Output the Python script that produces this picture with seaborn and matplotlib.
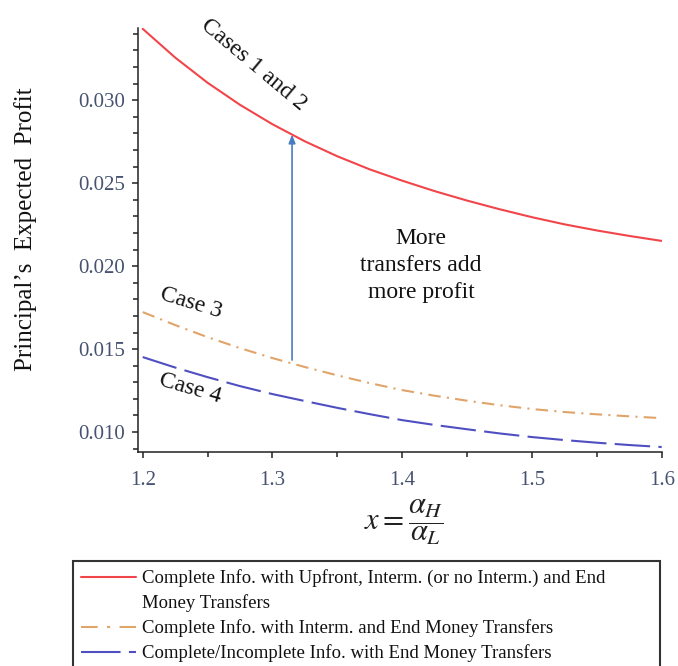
import numpy as np
import pandas as pd
import matplotlib
matplotlib.use("Agg")
import matplotlib.pyplot as plt
from matplotlib.lines import Line2D
from matplotlib.ticker import MultipleLocator, FormatStrFormatter
import seaborn as sns

# Ratio x = alpha_H / alpha_L
x_ratio = [1.2, 1.225, 1.25, 1.275, 1.3, 1.325, 1.35, 1.375, 1.4,
           1.425, 1.45, 1.475, 1.5, 1.525, 1.55, 1.575, 1.6]

# Principal's expected profit for each information / transfer regime
profit_case12 = [0.03430, 0.03257, 0.03105, 0.02972, 0.02855, 0.02752,
                 0.02662, 0.02583, 0.02515, 0.02452, 0.02395, 0.02343,
                 0.02295, 0.02252, 0.02215, 0.02182, 0.02152]
profit_case3 = [0.01723, 0.01645, 0.01572, 0.01506, 0.01446, 0.01392,
                0.01342, 0.01295, 0.01253, 0.01219, 0.01189, 0.01162,
                0.01139, 0.01121, 0.01107, 0.01095, 0.01084]
profit_case4 = [0.01452, 0.01389, 0.01331, 0.01277, 0.01229, 0.01187,
                0.01146, 0.01108, 0.01072, 0.01043, 0.01017, 0.00992,
                0.00970, 0.00952, 0.00936, 0.00922, 0.00910]

series_names = ["Cases 1 and 2", "Case 3", "Case 4"]
legend_labels = [
    "Complete Info. with Upfront, Interm. (or no Interm.) and End",
    "Money Transfers",
    "Complete Info. with Interm. and End Money Transfers",
    "Complete/Incomplete Info. with End Money Transfers",
]
x_ticks = [1.2, 1.3, 1.4, 1.5, 1.6]
y_ticks = [0.010, 0.015, 0.020, 0.025, 0.030]

colors = {"Cases 1 and 2": "#f2454a", "Case 3": "#e0a46a", "Case 4": "#4f4fc2"}
dash_styles = {"Cases 1 and 2": "", "Case 3": (6, 3, 1, 3), "Case 4": (17, 4)}

df = pd.concat([
    pd.DataFrame({"x": x_ratio, "profit": vals, "case": name})
    for name, vals in zip(series_names, [profit_case12, profit_case3, profit_case4])
], ignore_index=True)

sns.set_style("ticks")
plt.rcParams["font.family"] = ["Liberation Serif", "DejaVu Serif"]
plt.rcParams["mathtext.fontset"] = "stix"

W, H = 678, 666
fig = plt.figure(figsize=(W / 100, H / 100), dpi=100)
ax = fig.add_axes([138.3 / W, (H - 452) / H, (661.7 - 138.3) / W, (452 - 28) / H])

sns.lineplot(data=df, x="x", y="profit", hue="case", style="case",
             palette=colors, dashes=dash_styles, linewidth=1.5,
             legend=False, ax=ax)

ax.set_xlim(1.1966, 1.6)
ax.set_ylim(0.0088, 0.03435)
ax.set_xticks(x_ticks)
ax.set_yticks(y_ticks)
ax.xaxis.set_minor_locator(MultipleLocator(0.05))
ax.yaxis.set_minor_locator(MultipleLocator(0.001))
ax.xaxis.set_major_formatter(FormatStrFormatter("%.1f"))
ax.yaxis.set_major_formatter(FormatStrFormatter("%.3f"))
tick_color = "#465270"
ax.tick_params(axis="both", which="major", length=4.5, width=1.1,
               labelsize=15, labelcolor=tick_color, color="#222222")
ax.tick_params(axis="both", which="minor", length=3.3, width=1.1, color="#222222")
ax.tick_params(axis="y", which="major", pad=5)
ax.tick_params(axis="x", which="major", pad=9)
sns.despine(ax=ax)
for side in ("left", "bottom"):
    ax.spines[side].set_linewidth(1.1)
    ax.spines[side].set_color("#222222")
ax.set_xlabel("")
ax.set_ylabel("")

# Axis titles
fig.text(26 / W, 1 - 229 / H, "Principal\u02bcs  Expected  Profit", rotation=90,
         ha="center", va="center", fontsize=18, color="#111111")
fig.text(404 / W, 1 - 522 / H, r"$x=\dfrac{\alpha_H}{\alpha_L}$",
         ha="center", va="center", fontsize=22, color="#222222")

# Curve labels
ax.text(1.2857, 0.03211, "Cases 1 and 2", rotation=-40, ha="center", va="center",
        fontsize=17, color="#111111")
ax.text(1.2371, 0.01777, "Case 3", rotation=-17, ha="center", va="center",
        fontsize=17, color="#111111")
ax.text(1.2363, 0.01265, "Case 4", rotation=-16, ha="center", va="center",
        fontsize=17, color="#111111")

# Arrow between case 3 and cases 1-2
arrow_x = 1.3151
arrow_top = float(np.interp(arrow_x, x_ratio, profit_case12))
ax.annotate("", xy=(arrow_x, arrow_top), xytext=(arrow_x, 0.01434),
            arrowprops=dict(arrowstyle="-|>,head_length=0.5,head_width=0.2",
                            color="#4a7cc4", lw=1.2, shrinkA=0, shrinkB=0),
            annotation_clip=False)
ax.text(1.4145, 0.02006, "More\ntransfers add\nmore profit", ha="center",
        va="center", fontsize=17, color="#111111", linespacing=1.38)

# Legend
handles = [
    Line2D([], [], color=colors["Cases 1 and 2"], lw=1.5),
    Line2D([], [], color="none", lw=1.5),
    Line2D([], [], color=colors["Case 3"], lw=1.5, dashes=(8, 4.5, 1.5, 4.5)),
    Line2D([], [], color=colors["Case 4"], lw=1.5, dashes=(19, 4)),
]
leg = fig.legend(handles, legend_labels, loc="upper left",
                 bbox_to_anchor=(73 / W, 0.0, (660 - 73) / W, (H - 561) / H),
                 mode="expand", borderaxespad=0, fontsize=13.5, frameon=True,
                 fancybox=False, edgecolor="#333333", framealpha=1,
                 handlelength=2.9, handletextpad=0.35, borderpad=0.45,
                 labelspacing=0.38)
leg.get_frame().set_linewidth(1.5)
for t in leg.get_texts():
    t.set_color("#111111")

fig.savefig("out.png", dpi=100)
